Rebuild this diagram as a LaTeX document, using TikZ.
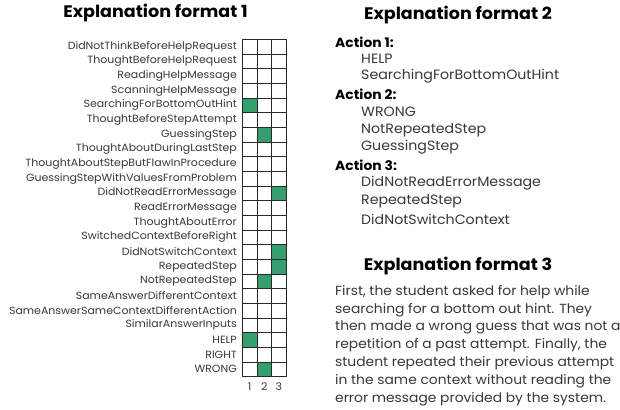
\documentclass[tikz,border=0pt]{standalone}
\usepackage{fontspec}
\setmainfont{Poppins}[FakeStretch=1.05]
\definecolor{cellgreen}{RGB}{52,158,110}
\definecolor{txt}{RGB}{55,55,55}
\definecolor{gridc}{RGB}{40,40,40}
\begin{document}
\begin{tikzpicture}[x=1pt,y=-1pt,
  title/.style={font=\bfseries\fontsize{16.7}{20}\selectfont, inner sep=0, text=black},
  lbl/.style={font=\fontsize{10.45}{12}\selectfont, text=txt, anchor=east, inner sep=0},
  num/.style={font=\fontsize{10.5}{12}\selectfont, text=txt, inner sep=0},
  act/.style={font=\bfseries\fontsize{13.2}{15}\selectfont, anchor=west, inner sep=0, text=black},
  item/.style={font=\fontsize{13.5}{15}\selectfont, anchor=west, inner sep=0, text=txt},
  para/.style={font=\fontsize{13.2}{15}\selectfont, anchor=west, inner sep=0, text=txt},
  gridline/.style={draw=gridc, line width=0.9pt},
  gridouter/.style={draw=gridc, line width=1.4pt}]
\useasboundingbox (0,0) rectangle (620,409);
\def\gx{242.3}\def\gy{39.3}\def\cs{14.67}
% titles
\node[title] (t1) at (155.5,13) {Explanation format 1};
\node[title] (t2) at (458,15) {Explanation format 2};
\node[title] (t3) at (458,266) {Explanation format 3};
% labels
\foreach \lab [count=\i from 0] in {DidNotThinkBeforeHelpRequest,ThoughtBeforeHelpRequest,ReadingHelpMessage,ScanningHelpMessage,SearchingForBottomOutHint,ThoughtBeforeStepAttempt,GuessingStep,ThoughtAboutDuringLastStep,ThoughtAboutStepButFlawInProcedure,GuessingStepWithValuesFromProblem,DidNotReadErrorMessage,ReadErrorMessage,ThoughtAboutError,SwitchedContextBeforeRight,DidNotSwitchContext,RepeatedStep,NotRepeatedStep,SameAnswerDifferentContext,SameAnswerSameContextDifferentAction,SimilarAnswerInputs,HELP,RIGHT,WRONG}
  \node[lbl] (l\i) at (237,{\gy+\i*\cs+7.3}) {\lab};
% green cells (row/col)
\foreach \r/\c in {4/1,6/2,10/3,14/3,15/3,16/2,20/1,22/2}
  \fill[cellgreen] ({\gx+(\c-1)*\cs},{\gy+\r*\cs}) rectangle ++(\cs,\cs);
% grid
\foreach \k in {1,2}
  \draw[gridline] ({\gx+\k*\cs},\gy) -- ++(0,{23*\cs});
\foreach \k in {1,...,22}
  \draw[gridline] (\gx,{\gy+\k*\cs}) -- ++({3*\cs},0);
\draw[gridouter] (\gx,\gy) rectangle ++({3*\cs},{23*\cs});
% column numbers
\foreach \c in {1,2,3}
  \node[num] (n\c) at ({\gx+(\c-0.5)*\cs},387) {\c};
% format 2
\node[act] (a1) at (335,42) {Action 1:};
\node[item] (a1a) at (361,58.5) {HELP};
\node[item] (a1b) at (361,76.3) {SearchingForBottomOutHint};
\node[act] (a2) at (335,94) {Action 2:};
\node[item] (a2a) at (361,112) {WRONG};
\node[item] (a2b) at (361,130) {NotRepeatedStep};
\node[item] (a2c) at (361,147.5) {GuessingStep};
\node[act] (a3) at (335,165.5) {Action 3:};
\node[item] (a3a) at (361,183.5) {DidNotReadErrorMessage};
\node[item] (a3b) at (361,201.5) {RepeatedStep};
\node[item] (a3c) at (361,219) {DidNotSwitchContext};
% format 3
\foreach \ln [count=\j from 0] in {{First, the student asked for help while},{searching for a bottom out hint. They},{then made a wrong guess that was not a},{repetition of a past attempt. Finally, the},{student repeated their previous attempt},{in the same context without reading the},{error message provided by the system.}}
  \node[para] (p\j) at (335,{292+\j*17.8}) {\ln};
\end{tikzpicture}
\end{document}
